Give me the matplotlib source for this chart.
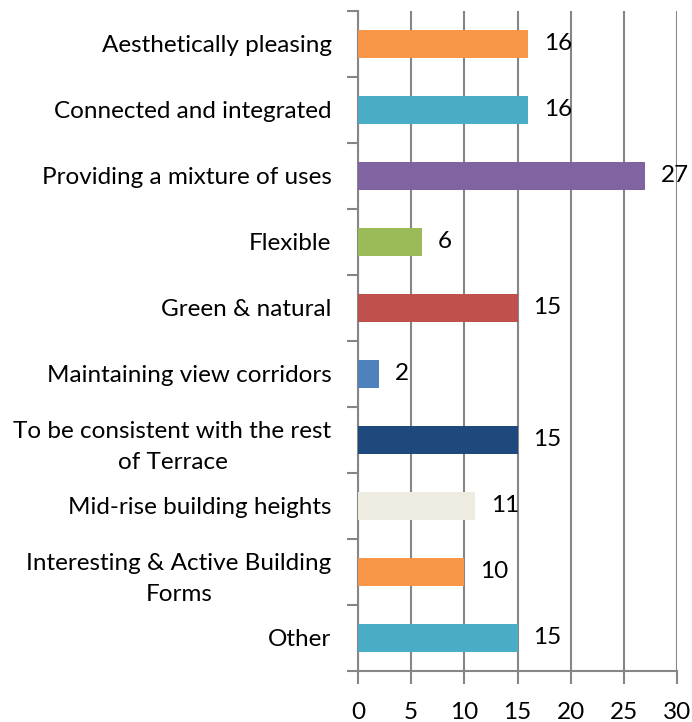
import matplotlib
matplotlib.use("Agg")
import matplotlib.pyplot as plt
import numpy as np

categories = [
    "Aesthetically pleasing",
    "Connected and integrated",
    "Providing a mixture of uses",
    "Flexible",
    "Green & natural",
    "Maintaining view corridors",
    "To be consistent with the rest\nof Terrace",
    "Mid-rise building heights",
    "Interesting & Active Building\nForms",
    "Other",
]
values = [16, 16, 27, 6, 15, 2, 15, 11, 10, 15]
colors = ["#F79646", "#4BACC6", "#8064A2", "#9BBB59", "#C0504D",
          "#4F81BD", "#1F497D", "#EEECE1", "#F79646", "#4BACC6"]
xticks = [0, 5, 10, 15, 20, 25, 30]

plt.rcParams['font.family'] = ['Lato', 'DejaVu Sans']
FS = 17.5
gray = "#868686"

fig = plt.figure(figsize=(6.92, 7.22), dpi=100)
ax = fig.add_axes([358/692, 1-671/722, (677-358)/692, (671-11)/722])

n = len(categories)
y = np.arange(n)
ax.barh(y, values, height=0.41, color=colors, zorder=3)
ax.set_ylim(n - 0.5, -0.5)
ax.set_xlim(0, 30)
ax.set_xticks(xticks)
ax.set_xticklabels([str(t) for t in xticks], fontsize=FS)

ax.set_yticks(y)
ax.set_yticklabels(categories, fontsize=FS, multialignment='center', linespacing=1.6)
ax.tick_params(axis='y', which='major', length=0, pad=19)
ax.set_yticks(np.arange(-0.5, n, 1.0), minor=True)
ax.tick_params(axis='y', which='minor', length=8, width=1.5, color=gray, direction='out')
ax.tick_params(axis='x', which='major', length=9, width=1.5, color=gray, direction='out', pad=13)

ax.grid(axis='x', color=gray, linewidth=1.5, zorder=0)
for s in ['top', 'right']:
    ax.spines[s].set_visible(False)
for s in ['left', 'bottom']:
    ax.spines[s].set_color(gray)
    ax.spines[s].set_linewidth(1.5)

for yi, v in zip(y, values):
    ax.annotate(str(v), (v, yi), xytext=(11.5, 0), textcoords='offset points',
                ha='left', va='center', fontsize=FS, zorder=4)

fig.savefig("out.png", dpi=100)
